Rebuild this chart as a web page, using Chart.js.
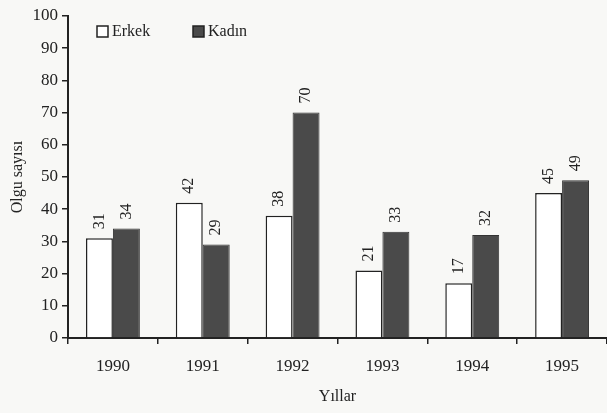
<!DOCTYPE html>
<html>
<head>
<meta charset="utf-8">
<script src="https://cdn.jsdelivr.net/npm/chart.js@4/dist/chart.umd.min.js"></script>
<style>
  html, body { margin: 0; padding: 0; background: #f8f8f6; }
  #wrap { width: 607px; height: 413px; }
</style>
</head>
<body>
<div id="wrap"><canvas id="myChart" width="607" height="413"></canvas></div>
<script>
const years = ["1990", "1991", "1992", "1993", "1994", "1995"];
const erkek = [31, 42, 38, 21, 17, 45];
const kadin = [34, 29, 70, 33, 32, 49];
const yTicks = [0, 10, 20, 30, 40, 50, 60, 70, 80, 90, 100];

const serif = "'Liberation Serif', 'DejaVu Serif', serif";
const ink = "#222";

// value labels, rotated, above each bar
const valueLabels = {
  id: "valueLabels",
  afterDatasetsDraw(chart) {
    const ctx = chart.ctx;
    ctx.save();
    ctx.font = "16px " + serif;
    ctx.fillStyle = ink;
    ctx.textAlign = "left";
    ctx.textBaseline = "middle";
    chart.data.datasets.forEach((ds, i) => {
      chart.getDatasetMeta(i).data.forEach((bar, j) => {
        ctx.save();
        ctx.translate(bar.x, bar.y - 9);
        ctx.rotate(-Math.PI / 2);
        ctx.fillText(String(ds.data[j]), 0, 0);
        ctx.restore();
      });
    });
    ctx.restore();
  }
};

// legend drawn inside the plot, top left
const innerLegend = {
  id: "innerLegend",
  afterDraw(chart) {
    const ctx = chart.ctx;
    ctx.save();
    ctx.font = "16px " + serif;
    ctx.textBaseline = "middle";
    let x = chart.chartArea.left + 29;
    const y = chart.chartArea.top + 16;
    chart.data.datasets.forEach((ds) => {
      ctx.fillStyle = ds.backgroundColor;
      ctx.fillRect(x, y - 6, 11, 11);
      ctx.strokeStyle = ink;
      ctx.lineWidth = 1.5;
      ctx.strokeRect(x, y - 6, 11, 11);
      ctx.fillStyle = ink;
      ctx.fillText(ds.label, x + 15, y);
      x += 96;
    });
    ctx.restore();
  }
};

new Chart(document.getElementById("myChart"), {
  type: "bar",
  data: {
    labels: years,
    datasets: [
      { label: "Erkek", data: erkek, backgroundColor: "#ffffff", borderColor: ink, borderWidth: 1.5 },
      { label: "Kadın", data: kadin, backgroundColor: "#4a4a4a", borderColor: "#333", borderWidth: 1 }
    ]
  },
  options: {
    responsive: false,
    animation: false,
    layout: { padding: { top: 16, right: 0, left: 4, bottom: 3 } },
    datasets: { bar: { categoryPercentage: 0.6, barPercentage: 1.0 } },
    plugins: { legend: { display: false }, tooltip: { enabled: false } },
    scales: {
      x: {
        afterFit: (s) => { s.height = 72; },
        grid: { offset: true, drawOnChartArea: false, tickLength: 6, color: ink, lineWidth: 1.5 },
        border: { color: ink, width: 2 },
        ticks: { font: { family: serif, size: 17 }, color: ink, padding: 12 },
        title: { display: true, text: "Yıllar", font: { family: serif, size: 16 }, color: ink, padding: { top: 0 } }
      },
      y: {
        min: 0, max: 100,
        afterFit: (s) => { s.width = 64; },
        afterBuildTicks: (s) => { s.ticks = yTicks.map((v) => ({ value: v })); },
        grid: { drawOnChartArea: false, tickLength: 6, color: ink, lineWidth: 1.5 },
        border: { color: ink, width: 2 },
        ticks: { font: { family: serif, size: 17 }, color: ink, padding: 4 },
        title: { display: true, text: "Olgu sayısı", font: { family: serif, size: 16 }, color: ink, padding: { bottom: 4 } }
      }
    }
  },
  plugins: [valueLabels, innerLegend]
});
</script>
</body>
</html>
